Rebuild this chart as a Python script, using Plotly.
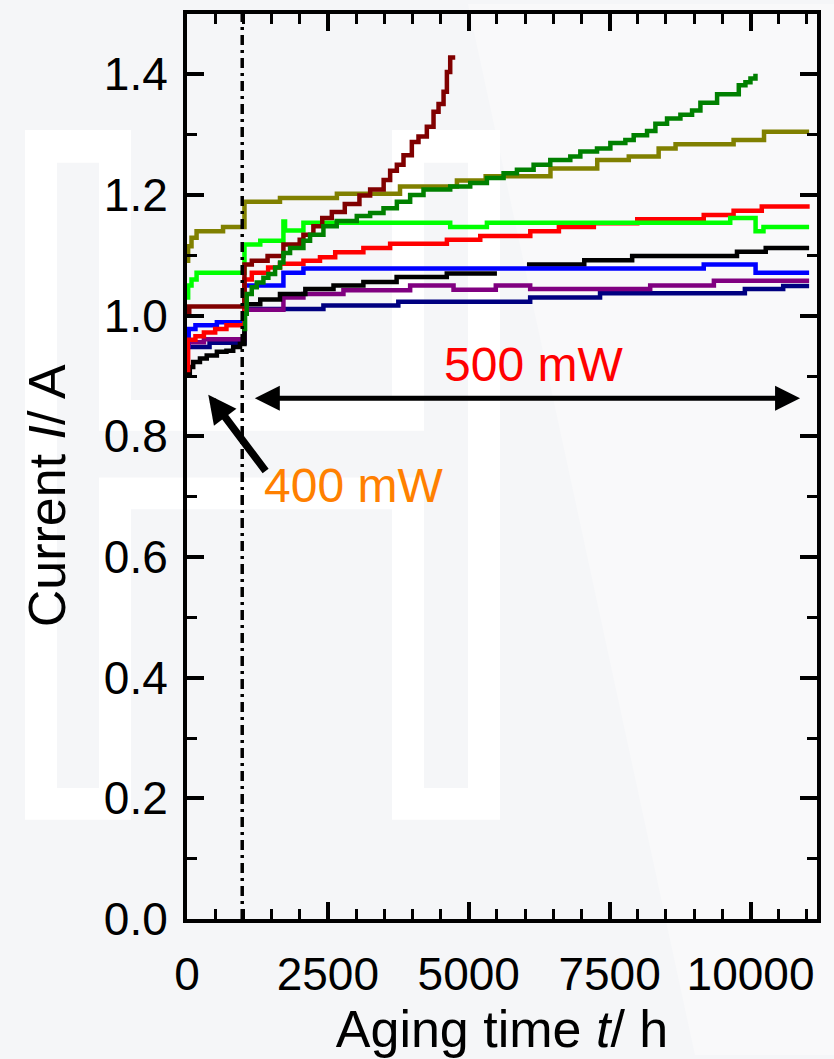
import plotly.graph_objects as go

# ---- data: aging time t (h) and current I (A); steps switch at 400 mW -> 500 mW ----
T_SWITCH = 980

olive_t = [0, 20, 80, 170, 640, 1020, 1650, 2660, 3780, 4790, 5300, 6450, 7280, 7840, 8370, 8670, 9700, 10240, 11040]
olive_i = [1.091, 1.115, 1.129, 1.140, 1.147, 1.189, 1.195, 1.202, 1.214, 1.224, 1.231, 1.244, 1.258, 1.264, 1.277, 1.284, 1.291, 1.305, 1.305]

lime_t = [0, 20, 80, 170, 1020, 1300, 1711, 1740, 2066, 4671, 5322, 9640, 10090, 10230, 11040]
lime_i = [1.030, 1.050, 1.060, 1.071, 1.118, 1.124, 1.156, 1.141, 1.154, 1.147, 1.154, 1.162, 1.140, 1.147, 1.147]

maroon_t = [0, 40, 1020, 1150, 1430, 1711, 2000, 2066, 2243, 2400, 2570, 2800, 3060, 3250, 3490, 3605, 3724, 3842, 3990,
            4108, 4256, 4375, 4464, 4553, 4612, 4671, 4760]
maroon_i = [1.005, 1.015, 1.085, 1.091, 1.099, 1.118, 1.126, 1.134, 1.148, 1.162, 1.172, 1.185, 1.199, 1.209, 1.225, 1.240,
            1.250, 1.266, 1.288, 1.297, 1.313, 1.338, 1.351, 1.371, 1.404, 1.428, 1.428]

green_t = [980, 1030, 1060, 1149, 1238, 1356, 1444, 1563, 1652, 1711, 1829, 2066, 2184, 2421, 2657, 3013, 3250, 3487, 3724,
           3960, 4197, 4671, 5026, 5322, 5618, 5855, 6151, 6447, 6802, 6980, 7276, 7513, 7779, 7927, 8164, 8312, 8519,
           8756, 8963, 9111, 9407, 9792, 9910, 9999, 10088]
green_i = [0.978, 1.003, 1.036, 1.047, 1.055, 1.063, 1.069, 1.080, 1.088, 1.104, 1.112, 1.124, 1.134, 1.148, 1.157, 1.165,
           1.170, 1.178, 1.189, 1.200, 1.209, 1.214, 1.220, 1.228, 1.236, 1.242, 1.250, 1.258, 1.264, 1.272, 1.277, 1.286,
           1.291, 1.299, 1.306, 1.318, 1.327, 1.333, 1.340, 1.353, 1.367, 1.382, 1.387, 1.393, 1.401]

red_t = [0, 20, 150, 300, 500, 700, 1020, 1150, 1440, 1650, 2066, 2360, 2630, 3130, 3605, 4612, 5204, 6092, 6600, 7220,
         7990, 9170, 9700, 10200, 11050]
red_i = [0.910, 0.960, 0.966, 0.972, 0.978, 0.984, 1.060, 1.071, 1.080, 1.086, 1.091, 1.097, 1.105, 1.112, 1.119, 1.126,
         1.132, 1.140, 1.147, 1.153, 1.160, 1.167, 1.174, 1.181, 1.181]

blue_t = [0, 30, 150, 530, 1020, 1711, 2066, 9170, 10090, 11040]
blue_i = [0.950, 0.978, 0.984, 0.989, 1.050, 1.071, 1.078, 1.085, 1.071, 1.071]

black_t = [0, 50, 110, 230, 350, 530, 700, 820, 940, 1020, 1300, 1650, 2100, 2600, 3130, 3720, 4610, 5500, None,
           6033, 7050, 7900, 9760, 10270, 11040]
black_i = [0.904, 0.915, 0.923, 0.929, 0.934, 0.940, 0.942, 0.948, 0.953, 1.019, 1.027, 1.036, 1.044, 1.050, 1.056,
           1.064, 1.070, 1.070, None, 1.085, 1.092, 1.099, 1.106, 1.112, 1.112]

purple_t = [0, 300, 1020, 1711, 2066, 2776, 3960, 4730, 5480, 6090, 8220, 9350, 11040]
purple_i = [0.956, 0.961, 1.010, 1.030, 1.036, 1.042, 1.050, 1.043, 1.050, 1.044, 1.050, 1.058, 1.058]

navy_t = [0, 400, 1020, 2421, 3750, 6090, 7330, 9900, 10580, 11040]
navy_i = [0.948, 0.955, 1.011, 1.017, 1.023, 1.030, 1.037, 1.044, 1.049, 1.049]

series = [
    ("navy", "#000080", navy_t, navy_i),
    ("purple", "#800080", purple_t, purple_i),
    ("black", "#000000", black_t, black_i),
    ("blue", "#0000ff", blue_t, blue_i),
    ("red", "#ff0000", red_t, red_i),
    ("lime", "#00ff00", lime_t, lime_i),
    ("olive", "#808000", olive_t, olive_i),
    ("maroon", "#800000", maroon_t, maroon_i),
    ("green", "#008000", green_t, green_i),
]

X_RANGE = [0, 11180]
Y_RANGE = [0, 1.5]
X_TICKS = [0, 2500, 5000, 7500, 10000]
Y_TICKS = [0.0, 0.2, 0.4, 0.6, 0.8, 1.0, 1.2, 1.4]

FONT = "Liberation Sans, Arial, sans-serif"
BG = "#f5f6f8"

fig = go.Figure()
for name, color, t, i in series:
    fig.add_trace(go.Scatter(
        x=t, y=i, name=name, mode="lines", connectgaps=False,
        line=dict(color=color, width=4.5, shape="hv"), showlegend=False,
    ))

# dash-dot marker where the load changes from 400 mW to 500 mW
fig.add_shape(type="line", xref="x", yref="paper", x0=T_SWITCH, x1=T_SWITCH, y0=0, y1=1,
              line=dict(color="black", width=3.5, dash="10px,5px,3px,5px"), layer="above")

# faint background watermark (outlined letter), in page pixels
W, H = 834, 1059
L, R, T, B = 187, 817, 10, 922


def px_x(px):
    return (px - L) / (R - L)


def px_y(py):
    return (B - py) / (B - T)


def rect(x0, y0, x1, y1, color):
    fig.add_shape(type="rect", xref="paper", yref="paper",
                  x0=px_x(x0), x1=px_x(x1), y0=px_y(y1), y1=px_y(y0),
                  fillcolor=color, line=dict(width=0), layer="below")


diag = [(468, 0), (W, 0), (W, H), (695, H)]
path = "M " + " L ".join(f"{px_x(a):.4f},{px_y(b):.4f}" for a, b in diag) + " Z"
fig.add_shape(type="path", xref="paper", yref="paper", path=path,
              fillcolor="#f9f9fa", line=dict(width=0), layer="below")

for x0, y0, x1, y1 in [(25, 127, 131, 822), (131, 399, 392, 509), (392, 127, 500, 822)]:
    rect(x0, y0, x1, y1, "#ffffff")
for x0, y0, x1, y1 in [(57, 160, 99, 790), (99, 430, 424, 477), (424, 160, 468, 790)]:
    rect(x0, y0, x1, y1, BG)

# arrows and labels
fig.add_annotation(x=10880, y=0.863, ax=1177, ay=0.863, xref="x", yref="y", axref="x", ayref="y",
                   text="", showarrow=True, arrowside="end+start", arrowhead=2, arrowsize=1.0,
                   arrowwidth=5, arrowcolor="black")
fig.add_annotation(x=378, y=0.869, ax=1415, ay=0.740, xref="x", yref="y", axref="x", ayref="y",
                   text="", showarrow=True, arrowhead=2, arrowsize=0.75, arrowwidth=7.5, arrowcolor="black")
fig.add_annotation(x=6142, y=0.919, xref="x", yref="y", text="500 mW", showarrow=False,
                   font=dict(family=FONT, size=48, color="#ff0000"))
fig.add_annotation(x=2948, y=0.718, xref="x", yref="y", text="400 mW", showarrow=False,
                   font=dict(family=FONT, size=48, color="#ff8000"))

# y-axis title, placed as rotated text left of the tick labels
fig.add_annotation(x=px_x(47), y=px_y(496), xref="paper", yref="paper", text="Current <i>I</i>/ A",
                   textangle=-90, showarrow=False, xanchor="center", yanchor="middle",
                   font=dict(family=FONT, size=52, color="black"))

axis_common = dict(
    showline=True, linecolor="black", linewidth=4, mirror="allticks",
    ticks="inside", ticklen=17, tickwidth=3.5, tickcolor="black",
    showgrid=False, zeroline=False,
    tickfont=dict(family=FONT, size=46, color="black"),
)

fig.update_xaxes(
    range=X_RANGE, tickvals=X_TICKS, ticktext=[str(v) for v in X_TICKS],
    minor=dict(dtick=500, tick0=0, ticks="inside", ticklen=10, tickwidth=3, tickcolor="black"),
    title=dict(text="Aging time <i>t</i>/ h", font=dict(family=FONT, size=52, color="black"), standoff=12),
    ticklabelstandoff=12,
    **axis_common,
)
fig.update_yaxes(
    range=Y_RANGE, tickvals=Y_TICKS, ticktext=[f"{v:.1f}" for v in Y_TICKS],
    minor=dict(dtick=0.1, tick0=0, ticks="inside", ticklen=10, tickwidth=3, tickcolor="black"),
    ticklabelstandoff=6,
    **axis_common,
)

fig.update_layout(
    width=W, height=H,
    margin=dict(l=L, r=W - R, t=T, b=H - B),
    paper_bgcolor=BG, plot_bgcolor="rgba(0,0,0,0)",
    font=dict(family=FONT, color="black"),
)

fig.write_html("out.html")
